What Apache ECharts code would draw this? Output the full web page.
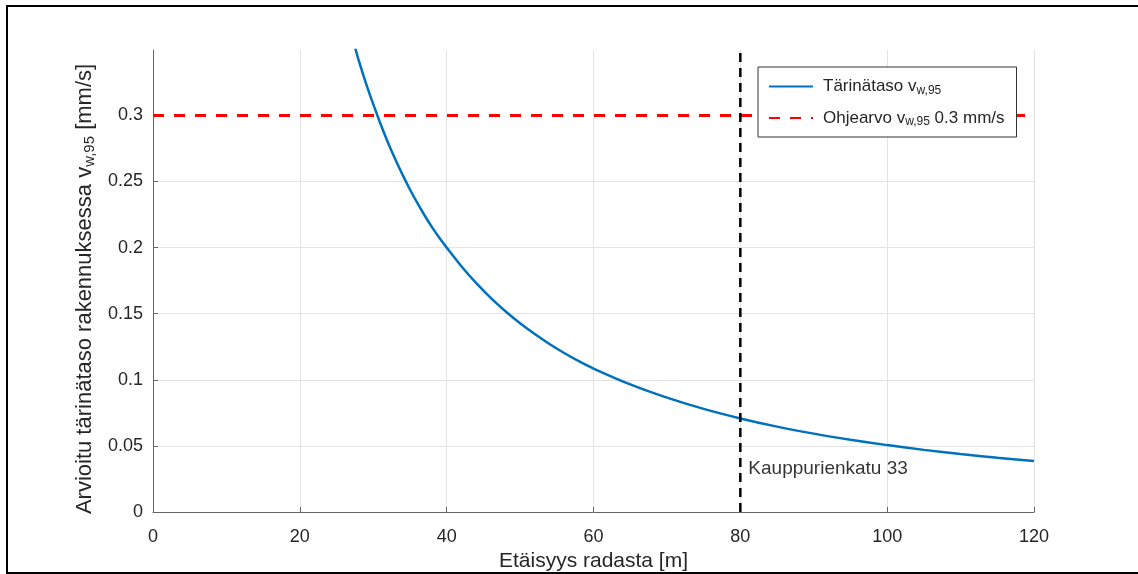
<!DOCTYPE html>
<html>
<head>
<meta charset="utf-8">
<script src="https://cdn.jsdelivr.net/npm/echarts@6/dist/echarts.min.js"></script>
<style>
html,body{margin:0;padding:0;background:#fff;}
#chart{width:1138px;height:574px;}
</style>
</head>
<body>
<div id="chart"></div>
<script>
// Distance from track [m]
var distance = [27.5, 28, 29, 30, 31, 32, 33, 34, 35, 36, 37, 38, 39, 40, 42, 44, 46, 48, 50, 52, 54, 56, 58, 60, 65, 70, 75, 80, 85, 90, 95, 100, 105, 110, 115, 120];
// Estimated vibration level v_w,95 [mm/s]
var vibration = [0.352, 0.342, 0.3245, 0.3085, 0.2935, 0.2795, 0.2668, 0.2550, 0.2440, 0.2338, 0.2243, 0.2155, 0.2074, 0.2000, 0.1859, 0.1733, 0.1620, 0.1519, 0.1428, 0.1346, 0.1271, 0.1203, 0.1141, 0.1085, 0.0965, 0.0865, 0.0780, 0.0708, 0.0646, 0.0593, 0.0547, 0.0506, 0.0470, 0.0438, 0.0410, 0.0385];
// Guide value line
var guideX = [0, 120];
var guideY = [0.3, 0.3];
// Building marker
var buildingX = [80, 80];
var buildingY = [0, 0.3495];
var buildingLabel = 'Kauppurienkatu 33';
var buildingLabelY = 0.033;
// Ticks
var xTicks = [0, 20, 40, 60, 80, 100, 120];
var yTicks = [0, 0.05, 0.1, 0.15, 0.2, 0.25, 0.3];

var FONT = '"Liberation Sans", Arial, Helvetica, sans-serif';
var TXT = '#262626';

function zip(a, b) { return a.map(function (v, i) { return [v, b[i]]; }); }

var chart = echarts.init(document.getElementById('chart'), null, {renderer: 'canvas'});
var option = {
  backgroundColor: '#fff',
  animation: false,
  grid: {left: 153, right: 104, top: 50, bottom: 62, containLabel: false, outerBoundsMode: 'none'},
  graphic: [{
    type: 'rect', z: 100, silent: true,
    shape: {x: 7, y: 6, width: 1140, height: 567},
    style: {fill: 'none', stroke: '#000', lineWidth: 2}
  }],
  legend: {
    left: 758, top: 67, orient: 'vertical',
    data: ['Tärinätaso', 'Ohjearvo'],
    backgroundColor: '#fff', borderColor: '#333', borderWidth: 1,
    padding: [11, 12, 9, 10], itemGap: 13, itemWidth: 44, itemHeight: 14,
    itemStyle: {opacity: 0},
    textStyle: {fontSize: 17, fontFamily: FONT, color: TXT, rich: {
      sub: {fontSize: 12, fontFamily: FONT, color: TXT, padding: [8, 0, 0, 0]},
      m: {fontSize: 17, fontFamily: FONT, color: TXT, padding: [0, 0, 0, 5]},
      n: {fontSize: 17, fontFamily: FONT, color: TXT}
    }},
    formatter: function (name) {
      if (name === 'Tärinätaso') return '{m|Tärinätaso v}{sub|w,95}';
      return '{m|Ohjearvo v}{sub|w,95}{n| 0.3 mm/s}';
    }
  },
  xAxis: {
    type: 'value', min: 0, max: 120, interval: 20,
    name: 'Etäisyys radasta [m]', nameLocation: 'middle', nameGap: 39,
    nameTextStyle: {fontSize: 21, fontFamily: FONT, color: TXT},
    axisLine: {show: true, onZero: false, lineStyle: {color: '#666', width: 1}},
    axisTick: {show: true, inside: true, length: 5, lineStyle: {color: '#666'}},
    axisLabel: {fontSize: 18, fontFamily: FONT, color: TXT, margin: 16,
      formatter: function (v) { return xTicks.indexOf(v) >= 0 ? String(v) : ''; }},
    splitLine: {show: true, lineStyle: {color: '#e3e3e3', width: 1}}
  },
  yAxis: {
    type: 'value', min: 0, max: 0.3495, interval: 0.05,
    name: 'Arvioitu tärinätaso rakennuksessa v{s|w,95} [mm/s]', nameLocation: 'middle', nameGap: 52, nameRotate: 90,
    nameTextStyle: {fontSize: 22, fontFamily: FONT, color: TXT, padding: [0, 16, 0, 0], rich: {
      s: {fontSize: 15, fontFamily: FONT, color: TXT, padding: [9, 0, 0, 0]}
    }},
    axisLine: {show: true, lineStyle: {color: '#666', width: 1}},
    axisTick: {show: true, inside: true, length: 5, lineStyle: {color: '#666'}, customValues: yTicks},
    axisLabel: {fontSize: 18, fontFamily: FONT, color: TXT, margin: 10,
      formatter: function (v) {
        var r = Math.round(v * 100) / 100;
        for (var i = 0; i < yTicks.length; i++) if (Math.abs(yTicks[i] - r) < 1e-9) return String(yTicks[i]);
        return '';
      }},
    splitLine: {show: true, showMaxLine: false, lineStyle: {color: '#e3e3e3', width: 1}}
  },
  series: [
    {
      name: 'Tärinätaso', type: 'line', data: zip(distance, vibration),
      showSymbol: false, symbol: 'none', smooth: 0.3, clip: true,
      lineStyle: {color: '#0072BD', width: 2.5}, itemStyle: {color: '#0072BD'}, z: 3
    },
    {
      name: 'Ohjearvo', type: 'line', data: zip(guideX, guideY),
      showSymbol: false, symbol: 'none',
      lineStyle: {color: '#FF0000', width: 3, type: [11, 10]}, itemStyle: {color: '#FF0000'}, z: 2
    },
    {
      name: 'Rakennus', type: 'line', data: zip(buildingX, buildingY),
      showSymbol: false, symbol: 'none',
      lineStyle: {color: '#000', width: 2.5, type: [9, 6]}, itemStyle: {color: '#000'}, z: 4
    },
    {
      name: 'label', type: 'scatter', data: [[buildingX[0], buildingLabelY]], symbolSize: 0,
      label: {show: true, position: 'right', distance: 8, formatter: buildingLabel,
        fontSize: 19, fontFamily: FONT, color: '#000'}, z: 5
    }
  ]
};
chart.setOption(option);
</script>
</body>
</html>
